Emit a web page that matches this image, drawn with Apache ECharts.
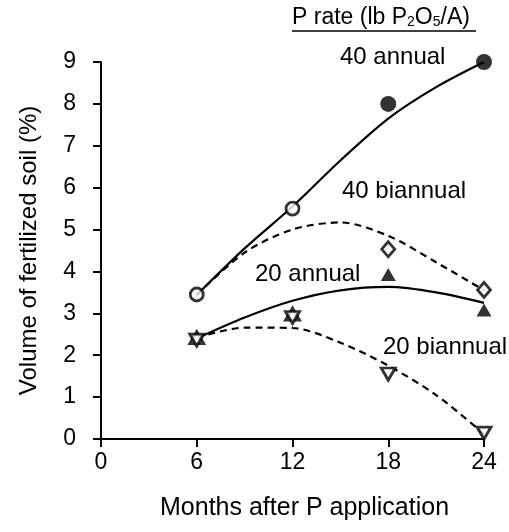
<!DOCTYPE html>
<html>
<head>
<meta charset="utf-8">
<script src="https://cdn.jsdelivr.net/npm/echarts@6/dist/echarts.min.js"></script>
<style>
  html,body{margin:0;padding:0;background:#fff}
  #chart{width:509px;height:532px}
</style>
</head>
<body>
<div id="chart"></div>
<script>
// months sampled along the fitted curves
const months = [6, 9, 12, 15, 18, 21, 24]
const fit40Annual = [3.44, 4.55, 5.55, 6.65, 7.65, 8.4, 9.0]
const fit40Biannual = [3.44, 4.45, 5.0, 5.17, 4.85, 4.22, 3.55]
const fit20Annual = [2.4, 2.9, 3.3, 3.55, 3.63, 3.5, 3.25]
const fit20Biannual = [2.42, 2.66, 2.65, 2.3, 1.75, 1.05, 0.12]

// observed points
const openCircle = [[6, 3.45], [12, 5.5]]
const filledCircle = [[18, 8.0], [24, 9.0]]
const openDiamond = [[18, 4.53], [24, 3.56]]
const filledTriangle = [[18, 3.93], [24, 3.08]]
const openUpTriangle = [[6, 2.42], [12, 2.98]]
const openDownTriangle = [[6, 2.36], [12, 2.9], [18, 1.55], [24, 0.14]]

const xTicks = [0, 6, 12, 18, 24]
const yTicks = [0, 1, 2, 3, 4, 5, 6, 7, 8, 9]

const font = "'Liberation Sans', Arial, sans-serif"

function pairs(xs, ys){
  let out = []
  for(let i=0;i<xs.length;i++){
    out.push([xs[i], ys[i]])
  }
  return out
}

function fitLine(data, dashed){
  return {
    type: 'line',
    data: data,
    smooth: 0.3,
    symbol: 'none',
    silent: true,
    z: 2,
    lineStyle: {color: '#000', width: 2.2, type: dashed ? [7, 5] : 'solid'}
  }
}

function points(data, symbol, size, filled, rotate){
  return {
    type: 'scatter',
    data: data,
    symbol: symbol,
    symbolSize: size,
    symbolRotate: rotate || 0,
    z: 5,
    itemStyle: {
      color: filled ? '#000' : '#fff',
      borderColor: '#000',
      borderWidth: filled ? 0 : 2.8
    }
  }
}

let chart = echarts.init(document.getElementById('chart'))
chart.setOption({
  animation: false,
  backgroundColor: '#fff',
  grid: {left: 101, right: 25, top: 62, bottom: 93},
  xAxis: {
    type: 'value', min: 0, max: 24, interval: 6,
    axisLine: {show: true, lineStyle: {color: '#000', width: 2}},
    axisTick: {show: true, length: 8, lineStyle: {color: '#000', width: 2}},
    axisLabel: {fontFamily: font, fontSize: 23, color: '#000', margin: 12,
      formatter: v => xTicks.indexOf(v) >= 0 ? String(v) : ''},
    splitLine: {show: false}
  },
  yAxis: {
    type: 'value', min: 0, max: 9, interval: 1,
    name: 'Volume of fertilized soil (%)',
    nameLocation: 'middle', nameGap: 60,
    nameTextStyle: {fontFamily: font, fontSize: 24, color: '#000'},
    axisLine: {show: true, lineStyle: {color: '#000', width: 2}},
    axisTick: {show: true, length: 8, lineStyle: {color: '#000', width: 2}},
    axisLabel: {fontFamily: font, fontSize: 23, color: '#000', margin: 25,
      formatter: v => yTicks.indexOf(v) >= 0 ? String(v) : ''},
    splitLine: {show: false}
  },
  series: [
    fitLine(pairs(months, fit40Annual), false),
    fitLine(pairs(months, fit40Biannual), true),
    fitLine(pairs(months, fit20Annual), false),
    fitLine(pairs(months, fit20Biannual), true),
    points(openCircle, 'circle', 13, false),
    points(filledCircle, 'circle', 16, true),
    points(openDiamond, 'diamond', [13, 15], false),
    points(filledTriangle, 'triangle', [15, 13], true),
    points(openUpTriangle, 'triangle', [14, 12], false),
    points(openDownTriangle, 'triangle', [14, 12], false, 180)
  ],
  graphic: [
    {type: 'text', left: 292, top: 6, z: 10, style: {
      text: '{a|P rate (lb P}{s|2}{a|O}{s|5}{a|/A)}',
      rich: {
        a: {fontFamily: font, fontSize: 23, fill: '#000'},
        s: {fontFamily: font, fontSize: 14, fill: '#000', verticalAlign: 'bottom', padding: [10, 0, 0, 0]}
      }
    }},
    {type: 'line', z: 10, shape: {x1: 292, y1: 31, x2: 476, y2: 31}, style: {stroke: '#000', lineWidth: 1.5}},
    {type: 'text', left: 340, top: 45, z: 10, style: {text: '40 annual', fontFamily: font, fontSize: 24, fill: '#000'}},
    {type: 'text', left: 342, top: 179, z: 10, style: {text: '40 biannual', fontFamily: font, fontSize: 24, fill: '#000'}},
    {type: 'text', left: 255, top: 262, z: 10, style: {text: '20 annual', fontFamily: font, fontSize: 24, fill: '#000'}},
    {type: 'text', left: 383, top: 335, z: 10, style: {text: '20 biannual', fontFamily: font, fontSize: 24, fill: '#000'}},
    {type: 'text', left: 160, top: 496, z: 10, style: {text: 'Months after P application', fontFamily: font, fontSize: 25, fill: '#000'}}
  ]
})
</script>
</body>
</html>
